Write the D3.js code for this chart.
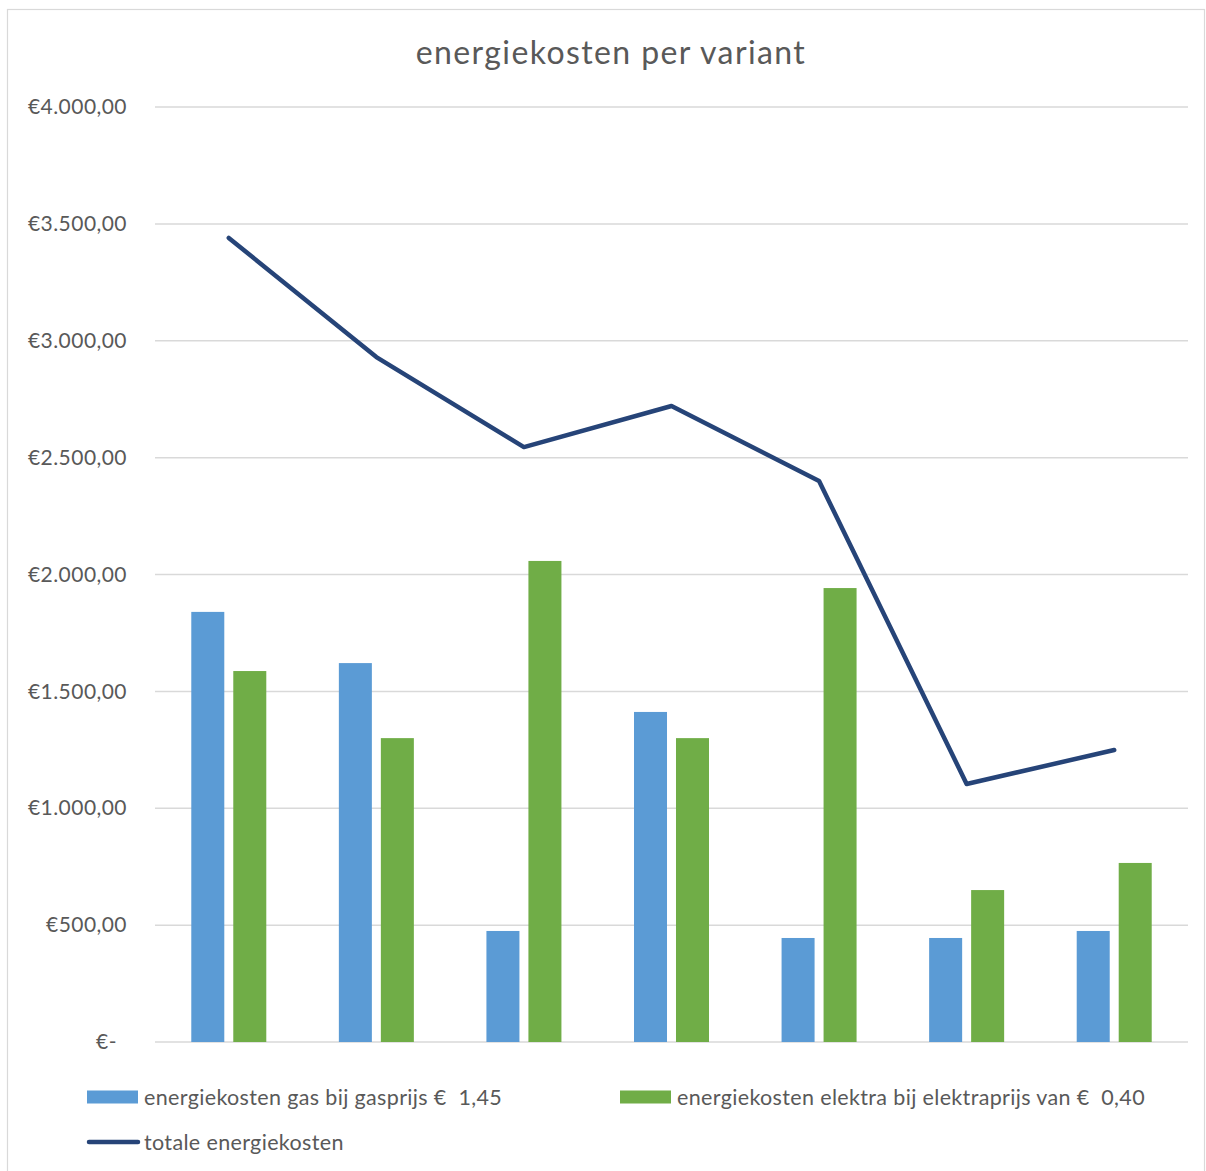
<!DOCTYPE html>
<html>
<head>
<meta charset="utf-8">
<script src="https://cdn.jsdelivr.net/npm/d3@7"></script>
<style>
  html, body { margin: 0; padding: 0; background: #fff; }
  svg { display: block; }
  text { font-family: Lato, "Noto Sans", sans-serif; fill: #595959; white-space: pre; }
</style>
</head>
<body>
<svg id="chart" width="1206" height="1171"></svg>
<script>
const categories = ["1", "2", "3", "4", "5", "6", "7"];
const gasValues = [1840, 1621, 475, 1412, 445, 445, 475];
const elecValues = [1587, 1300, 2058, 1300, 1942, 650, 766];
const totalValues = [3440, 2930, 2545, 2721, 2400, 1104, 1249];
const yTicks = [0, 500, 1000, 1500, 2000, 2500, 3000, 3500, 4000];
const seriesNames = [
  "energiekosten gas bij gasprijs €  1,45",
  "energiekosten elektra bij elektraprijs van €  0,40",
  "totale energiekosten"
];
const title = "energiekosten per variant";

const colors = { gas: "#5B9BD5", elec: "#70AD47", total: "#264478", grid: "#D9D9D9" };

const svg = d3.select("#chart");
const plot = { left: 155, right: 1188, top: 107, bottom: 1042 };

// chart border
svg.append("rect").attr("x", 7.5).attr("y", 9.5).attr("width", 1197).attr("height", 1170)
  .attr("fill", "none").attr("stroke", "#D9D9D9").attr("stroke-width", 1.2);

const x = d3.scaleBand().domain(categories).range([plot.left, plot.right]).padding(0);
const inner = d3.scaleBand().domain(["gas", "elec"]).range([0, x.bandwidth()])
  .paddingInner(0.214).paddingOuter(0.864);
const y = d3.scaleLinear().domain([0, 4000]).range([plot.bottom, plot.top]);

// title
svg.append("text").attr("x", 611).attr("y", 64).attr("text-anchor", "middle")
  .attr("font-size", 32).attr("letter-spacing", 1.4).text(title);

// gridlines + y axis
const fmt = v => {
  if (v === 0) return "€-";
  const s = d3.format(",.2f")(v);
  return "€" + s.replace(/,/g, "#").replace(".", ",").replace(/#/g, ".");
};
const yAxis = d3.axisLeft(y).tickValues(yTicks).tickSize(0).tickPadding(0).tickFormat(fmt);
const gAxis = svg.append("g").attr("transform", `translate(127,0)`).call(yAxis);
gAxis.select(".domain").remove();
gAxis.selectAll("text").attr("font-size", 21).attr("letter-spacing", 0.45).attr("fill", "#595959")
  .style("font-family", "Lato, 'Noto Sans', sans-serif")
  .attr("dx", d => d === 0 ? -10 : 0);

svg.append("g").selectAll("line").data(yTicks).join("line")
  .attr("x1", plot.left).attr("x2", plot.right)
  .attr("y1", d => y(d)).attr("y2", d => y(d))
  .attr("stroke", colors.grid).attr("stroke-width", 1.5);

// bars
const barData = categories.map((c, i) => ({ c, gas: gasValues[i], elec: elecValues[i] }));
const groups = svg.append("g").selectAll("g").data(barData).join("g")
  .attr("transform", d => `translate(${x(d.c)},0)`);
groups.selectAll("rect").data(d => [{ k: "gas", v: d.gas }, { k: "elec", v: d.elec }]).join("rect")
  .attr("x", d => inner(d.k)).attr("width", inner.bandwidth())
  .attr("y", d => y(d.v)).attr("height", d => y(0) - y(d.v))
  .attr("fill", d => colors[d.k]);

// total line
const line = d3.line().x((d, i) => x(categories[i]) + x.bandwidth() / 2).y(d => y(d));
svg.append("path").datum(totalValues).attr("d", line)
  .attr("fill", "none").attr("stroke", colors.total).attr("stroke-width", 4.5)
  .attr("stroke-linejoin", "round").attr("stroke-linecap", "round");

// legend
const legend = svg.append("g");
const items = [
  { name: seriesNames[0], type: "rect", color: colors.gas, x: 87, y: 1097 },
  { name: seriesNames[1], type: "rect", color: colors.elec, x: 620, y: 1097 },
  { name: seriesNames[2], type: "line", color: colors.total, x: 87, y: 1142 }
];
items.forEach(it => {
  if (it.type === "rect") {
    legend.append("rect").attr("x", it.x).attr("y", it.y - 6.5).attr("width", 51).attr("height", 13)
      .attr("fill", it.color);
  } else {
    legend.append("line").attr("x1", it.x + 2).attr("x2", it.x + 51).attr("y1", it.y).attr("y2", it.y)
      .attr("stroke", it.color).attr("stroke-width", 4.5).attr("stroke-linecap", "round");
  }
  legend.append("text").attr("x", it.x + 57).attr("y", it.y).attr("dy", "0.36em")
    .attr("font-size", 21.5).attr("letter-spacing", 0.35).text(it.name);
});
</script>
</body>
</html>
